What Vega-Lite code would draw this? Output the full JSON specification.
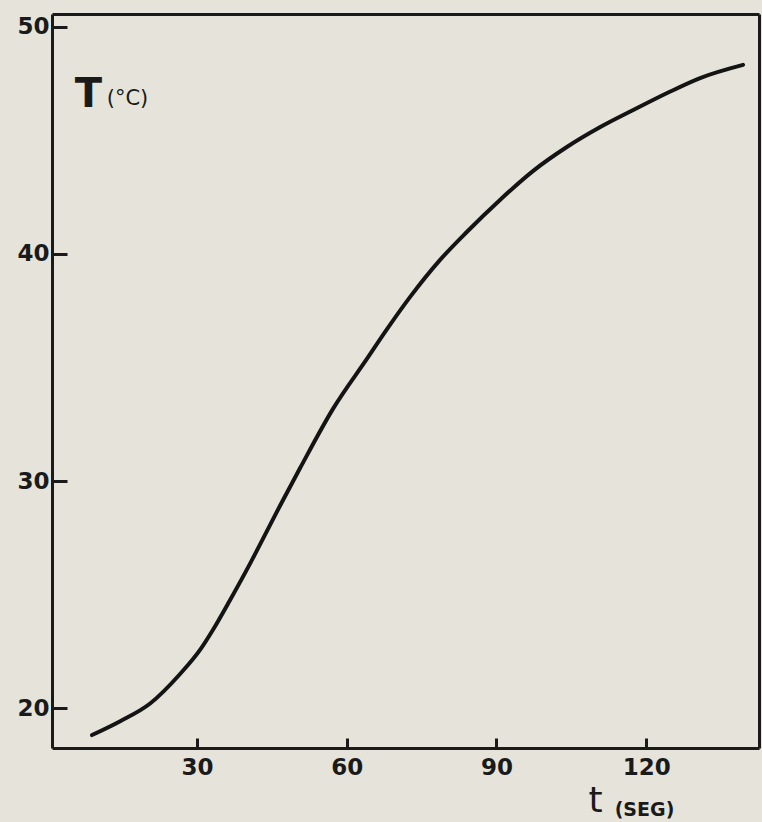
{
  "$schema": "https://vega.github.io/schema/vega-lite/v6.json",
  "width": 707,
  "height": 734,
  "autosize": {"type": "none"},
  "padding": {"left": 52, "top": 14, "right": 3, "bottom": 74},
  "background": "#e6e4da",
  "config": {
    "view": {"stroke": null},
    "axis": {
      "domainColor": "#1a1a1a",
      "domainWidth": 3,
      "tickColor": "#1a1a1a",
      "tickWidth": 3,
      "grid": false,
      "labelFont": "DejaVu Sans",
      "labelFontWeight": "bold",
      "labelFontSize": 23,
      "labelColor": "#1a1a1a",
      "titleColor": "#1a1a1a"
    }
  },
  "data": {
    "values": [
      {"t": 8.96, "T": 18.81},
      {"t": 14.6, "T": 19.42},
      {"t": 20.6, "T": 20.2},
      {"t": 26.6, "T": 21.5},
      {"t": 30.6, "T": 22.56},
      {"t": 33.2, "T": 23.45},
      {"t": 36.6, "T": 24.75},
      {"t": 40.6, "T": 26.35},
      {"t": 43.2, "T": 27.45},
      {"t": 46.6, "T": 28.9},
      {"t": 50.6, "T": 30.55},
      {"t": 57.3, "T": 33.2},
      {"t": 64.1, "T": 35.4},
      {"t": 68.1, "T": 36.7},
      {"t": 72.7, "T": 38.11},
      {"t": 78.7, "T": 39.74},
      {"t": 84.1, "T": 40.98},
      {"t": 90.7, "T": 42.38},
      {"t": 97.3, "T": 43.65},
      {"t": 104.1, "T": 44.71},
      {"t": 110.8, "T": 45.59},
      {"t": 117.4, "T": 46.34},
      {"t": 124.2, "T": 47.09},
      {"t": 130.8, "T": 47.75},
      {"t": 139.4, "T": 48.33}
    ]
  },
  "layer": [
    {
      "mark": {"type": "line", "interpolate": "monotone", "color": "#141414", "strokeWidth": 4, "strokeCap": "round"},
      "encoding": {
        "x": {
          "field": "t", "type": "quantitative",
          "scale": {"domain": [0.94, 142.6], "nice": false, "zero": false},
          "axis": {
            "orient": "bottom",
            "values": [30, 60, 90, 120],
            "tickSize": -10,
            "labelPadding": 18,
            "title": "t",
            "titleFont": "DejaVu Sans",
            "titleFontWeight": "normal",
            "titleFontSize": 36,
            "titleAngle": 0,
            "titleAlign": "center",
            "titleBaseline": "alphabetic",
            "titleX": 543,
            "titleY": 63
          }
        },
        "y": {
          "field": "T", "type": "quantitative",
          "scale": {"domain": [18.24, 50.57], "nice": false, "zero": false},
          "axis": {
            "orient": "left",
            "values": [20, 30, 40, 50],
            "tickSize": -15,
            "labelPadding": 18,
            "title": "T",
            "titleFont": "DejaVu Sans",
            "titleFontWeight": "bold",
            "titleFontSize": 40,
            "titleAngle": 0,
            "titleAlign": "center",
            "titleBaseline": "alphabetic",
            "titleX": 36,
            "titleY": 92
          }
        }
      }
    },
    {
      "mark": {"type": "line", "opacity": 0},
      "encoding": {
        "x": {
          "field": "t", "type": "quantitative",
          "scale": {"domain": [0.94, 142.6], "nice": false, "zero": false},
          "axis": {
            "orient": "top",
            "ticks": false,
            "labels": false,
            "title": "(SEG)",
            "titleFont": "DejaVu Sans",
            "titleFontWeight": "bold",
            "titleFontSize": 19,
            "titleAngle": 0,
            "titleAlign": "center",
            "titleBaseline": "alphabetic",
            "titleX": 592,
            "titleY": 801
          }
        },
        "y": {
          "field": "T", "type": "quantitative",
          "scale": {"domain": [18.24, 50.57], "nice": false, "zero": false},
          "axis": {
            "orient": "right",
            "ticks": false,
            "labels": false,
            "title": "(°C)",
            "titleFont": "DejaVu Sans",
            "titleFontWeight": "normal",
            "titleFontSize": 21,
            "titleAngle": 0,
            "titleAlign": "center",
            "titleBaseline": "alphabetic",
            "titleX": -632,
            "titleY": 90
          }
        }
      }
    }
  ],
  "resolve": {"scale": {"x": "independent", "y": "independent"}}
}
